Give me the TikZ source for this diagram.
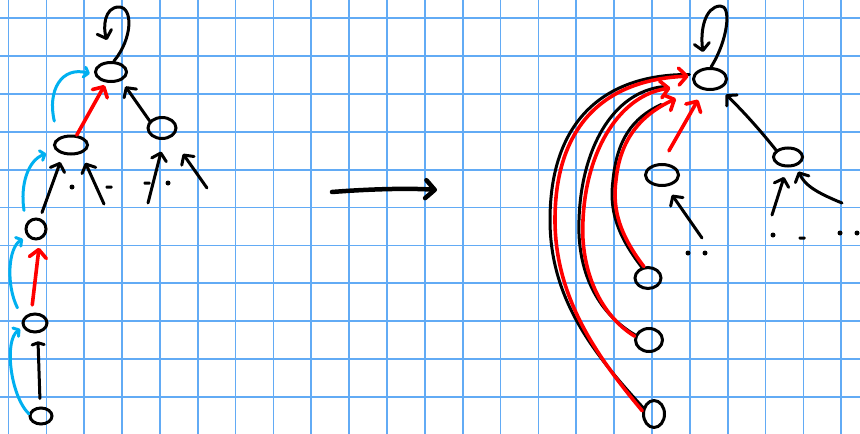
\documentclass[tikz,border=0pt]{standalone}
\usepackage{tikz}
\usetikzlibrary{positioning, arrows.meta, shapes.geometric, calc}
\definecolor{grigliacol}{HTML}{62ABF5}
\definecolor{cianocol}{HTML}{00B0F0}
\definecolor{rossocol}{HTML}{FF0000}
\tikzset{
	>={Straight Barb[length=7pt, width=15pt, round]},
	% quadretti del foglio
	quadretto/.style={grigliacol, line width=1.7pt},
	% nodo dell'albero (ellisse a mano)
	nodo/.style={draw, ellipse, line width=3pt, inner sep=0pt},
	% arco padre (nero)
	arco/.style={->, line width=3pt, line cap=round, line join=round},
	% tratto nero senza punta
	traccia/.style={line width=3pt, line cap=round, line join=round},
	% arco compresso (rosso)
	arcorosso/.style={-{Straight Barb[length=8pt, width=17pt, round]}, rossocol, line width=3.6pt,
	                  line cap=round, line join=round},
	% salto (ciano)
	arcociano/.style={-{Straight Barb[length=4pt, width=10pt, round]}, cianocol, line width=3pt,
	                  line cap=round, line join=round},
	% freccia tra i due alberi
	freccia/.style={-{Straight Barb[length=9pt, width=18pt, round]}, line width=4.5pt, line cap=round},
	% puntini dei sottoalberi
	puntino/.style={circle, fill, inner sep=0pt, minimum size=5pt},
	trattino/.style={rectangle, fill, inner sep=0pt, minimum width=7pt, minimum height=3pt, rounded corners=1pt},
}

\begin{document}
\begin{tikzpicture}[x=1pt, y=1pt]
    % foglio a quadretti
    \useasboundingbox (0,0) rectangle (860,-434);
    \fill[white] (0,0) rectangle (860,-434);
    \foreach \i in {0,...,22}
      \draw[quadretto] ({8.5+37.85*\i},0) -- ({8.5+37.85*\i},-434);
    \foreach \j in {0,...,10}
      \draw[quadretto] (0,{-18.3-37.85*\j}) -- (860,{-18.3-37.85*\j});
    % albero di sinistra
    \node[nodo, minimum width=31pt, minimum height=19pt] (lradice) at (111,-72)  {};
    \node[nodo, minimum width=33pt, minimum height=18pt] (la)      at (71,-145)  {};
    \node[nodo, minimum width=28pt, minimum height=21pt] (lb)      at (162,-128) {};
    \node[nodo, minimum width=20pt, minimum height=20pt] (lc)      at (36,-229)  {};
    \node[nodo, minimum width=24pt, minimum height=18pt] (ld)      at (35,-323)  {};
    \node[nodo, minimum width=22pt, minimum height=16pt] (le)      at (41,-416)  {};
    \coordinate (lcappio) at (107,-40);
    \draw[arco] (lradice.75) .. controls (133,-38) and (133,-7) .. (119,-7) .. controls (104,-7) and (103,-28) .. (lcappio);
    \draw[arco, shorten >=7pt] (lb.150) -- (lradice.-40);
    \draw[arco, shorten <=6pt, shorten >=8pt] (lc.70) -- (la.-130);
    \draw[arco, shorten <=8pt, shorten >=8pt, -{Straight Barb[length=2pt, width=12pt, round]}] (le.95) -- (ld.-75);
    \draw[arcorosso, shorten >=3pt] (la.60) -- (lradice.-115);
    \draw[arcorosso, shorten <=8pt, shorten >=8pt] (ld.110) -- (lc.-70);
    \draw[arcociano, shorten <=17pt, shorten >=5pt] (la.150) .. controls (47,-90) and (62,-66) .. (lradice.190);
    \draw[arcociano, shorten <=13pt, shorten >=10pt] (lc.150) .. controls (20,-185) and (28,-160) .. (la.200);
    \draw[arcociano, shorten <=12pt, shorten >=5pt] (ld.160) .. controls (6,-285) and (8,-248) .. (lc.220);
    \draw[arcociano, shorten >=3pt] (le.170) .. controls (10,-395) and (4,-340) .. (ld.200);
    % sottoalberi appena accennati
    \coordinate (la1) at (104,-204);
    \coordinate (lb1) at (148,-203);
    \coordinate (lb2) at (207,-188);
    \draw[arco, shorten >=10pt] (la1) -- (la.-40);
    \draw[arco, shorten >=12pt] (lb1) -- (lb.-80);
    \draw[arco, shorten >=20pt] (lb2) -- (lb.-45);
    \node[puntino] (lp1) at (72,-187) {};
    \node[trattino] (lp2) at (109,-187) {};
    \node[trattino] (lp3) at (147,-183) {};
    \node[puntino] (lp4) at (168,-183) {};
    % freccia centrale
    \coordinate (fa) at (332,-192);
    \coordinate (fb) at (437,-190);
    \draw[freccia] (fa) .. controls (370,-189) and (410,-188) .. (fb);
    % albero di destra
    \node[nodo, minimum width=33pt, minimum height=21pt] (rradice) at (710,-79)  {};
    \node[nodo, minimum width=29pt, minimum height=18pt] (rb)      at (788,-157) {};
    \node[nodo, minimum width=33pt, minimum height=21pt] (rf)      at (662,-175) {};
    \node[nodo, minimum width=26pt, minimum height=21pt] (rg)      at (648,-278) {};
    \node[nodo, minimum width=27pt, minimum height=23pt] (rh)      at (649,-340) {};
    \node[nodo, minimum width=21pt, minimum height=27pt] (ri)      at (654,-414) {};
    \coordinate (rcappio) at (703,-52);
    \draw[arco] (rradice.85) .. controls (728,-40) and (732,-5) .. (720,-6) .. controls (705,-7) and (700,-30) .. (rcappio);
    \draw[arco, shorten >=8pt] (rb.150) .. controls (760,-130) and (742,-110) .. (rradice.-45);
    % sottoalberi appena accennati
    \coordinate (rb1) at (772,-215);
    \coordinate (rb2) at (842,-203);
    \coordinate (rf1) at (702,-238);
    \draw[arco, shorten >=10pt] (rb1) -- (rb.-95);
    \draw[arco, shorten >=6pt] (rb2) .. controls (815,-192) and (805,-185) .. (rb.-50);
    \draw[arco, shorten >=10pt] (rf1) -- (rf.-70);
    \node[puntino] (rp1) at (773,-235) {};
    \node[trattino] (rp2) at (802,-238) {};
    \node[puntino] (rp3) at (840,-233) {};
    \node[puntino] (rp4) at (857,-233) {};
    \node[puntino] (rp5) at (688,-253) {};
    \node[puntino] (rp6) at (705,-253) {};
    % archi neri ripassati in rosso
    \draw[traccia, shorten >=4pt] (ri.150) .. controls (595,-355) and (550,-300) .. (550,-220)
        .. controls (550,-125) and (600,-74) .. (rradice.165);
    \draw[traccia, shorten >=30pt] (rh.160) .. controls (596,-312) and (577,-270) .. (579,-220)
        .. controls (581,-150) and (612,-92) .. (rradice.-165);
    \draw[traccia, shorten >=40pt] (rg.120) .. controls (617,-235) and (609,-210) .. (613,-180)
        .. controls (617,-140) and (632,-118) .. (rradice.-145);
    \draw[arcorosso, shorten >=4pt] (ri.165) .. controls (600,-360) and (555,-300) .. (555,-220)
        .. controls (555,-130) and (600,-80) .. (rradice.170);
    \draw[arcorosso, shorten >=24pt] (rh.165) .. controls (600,-315) and (580,-270) .. (583,-220)
        .. controls (586,-150) and (620,-95) .. (rradice.-160);
    \draw[arcorosso, shorten >=25pt] (rg.110) .. controls (620,-235) and (612,-210) .. (616,-180)
        .. controls (620,-140) and (640,-115) .. (rradice.-140);
    \draw[arcorosso, shorten <=14pt, shorten >=11pt] (rf.north) -- (rradice.-120);
\end{tikzpicture}
\end{document}
